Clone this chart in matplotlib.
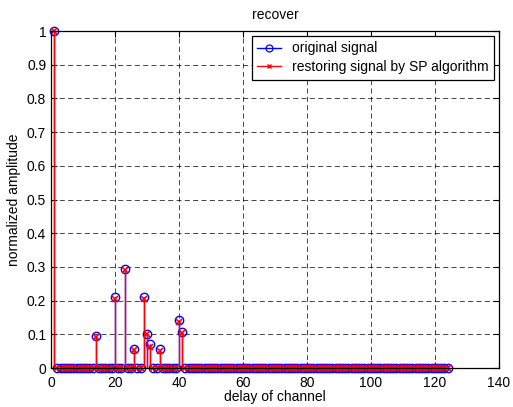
"""Stem plot: original vs SP-recovered sparse channel."""
import matplotlib
matplotlib.use("Agg")
import matplotlib.pyplot as plt
from matplotlib.lines import Line2D
from matplotlib.legend_handler import HandlerLine2D
import numpy as np

plt.rcParams['font.family'] = ['Liberation Sans', 'DejaVu Sans']

# channel delay taps (1..124), non-zero ones listed below
n_taps = 124
tap_pos = [1, 14, 20, 23, 26, 29, 30, 31, 34, 40, 41]
orig_amp = [1.0, 0.096, 0.212, 0.294, 0.056, 0.212, 0.102, 0.072, 0.056, 0.143, 0.108]
rec_amp = [1.0, 0.092, 0.205, 0.292, 0.054, 0.205, 0.100, 0.063, 0.049, 0.136, 0.104]

delay = np.arange(1, n_taps + 1)
orig = np.zeros(n_taps)
rec = np.zeros(n_taps)
for p, a, b in zip(tap_pos, orig_amp, rec_amp):
    orig[p - 1] = a
    rec[p - 1] = b


class EndMarker(HandlerLine2D):
    # MATLAB-like legend entry: marker at the right end of the line
    def get_xdata(self, legend, xdescent, ydescent, width, height, fontsize):
        xdata = np.array([-xdescent, -xdescent + width])
        return xdata, np.array([-xdescent + width])


fig = plt.figure(figsize=(5.13, 4.07), dpi=100)
ax = fig.add_axes([0.0994, 0.0958, 0.873, 0.828])

ml, sl, bl = ax.stem(delay, orig, linefmt='b-', markerfmt='bo', basefmt='b-')
plt.setp(ml, markersize=6, markerfacecolor='none', markeredgewidth=1.0, clip_on=False)
plt.setp(sl, linewidth=1.0)
plt.setp(bl, linewidth=0.8)

ml2, sl2, bl2 = ax.stem(delay, rec, linefmt='r-', markerfmt='rx', basefmt='r-')
plt.setp(ml2, markersize=4, markeredgewidth=1.2, clip_on=False)
plt.setp(sl2, linewidth=1.0)
plt.setp(bl2, linewidth=0.8)

ax.set_xlim(0, 140)
ax.set_ylim(0, 1)
ax.set_xticks(np.arange(0, 141, 20))
ax.set_yticks(np.arange(0, 1.01, 0.1))
ax.set_yticklabels(['0', '0.1', '0.2', '0.3', '0.4', '0.5', '0.6', '0.7', '0.8', '0.9', '1'])
ax.grid(True, color='k', linestyle=(0, (6, 4)), linewidth=0.6, alpha=0.85)
ax.tick_params(direction='in', top=True, right=True, labelsize=10, length=4)
ax.tick_params(axis='x', pad=6)
for s in ax.spines.values():
    s.set_linewidth(0.9)

ax.set_title('recover', fontsize=10, pad=9)
ax.set_xlabel('delay of channel', fontsize=10, labelpad=0)
ax.set_ylabel('normalized amplitude', fontsize=10)

h1 = Line2D([], [], color='b', marker='o', markersize=5, markerfacecolor='none',
            markeredgewidth=0.9, linewidth=1.0)
h2 = Line2D([], [], color='r', marker='x', markersize=3, markeredgewidth=1.0,
            linewidth=1.0)
leg = ax.legend([h1, h2], ['original signal', 'restoring signal by SP algorithm'],
                loc='upper right', fontsize=10, fancybox=False, framealpha=1,
                edgecolor='k', borderaxespad=0.35, handlelength=1.7,
                borderpad=0.4, labelspacing=0.35, handletextpad=0.8,
                handler_map={Line2D: EndMarker(numpoints=1)})
leg.get_frame().set_linewidth(0.9)

fig.savefig('out.png', dpi=100)
